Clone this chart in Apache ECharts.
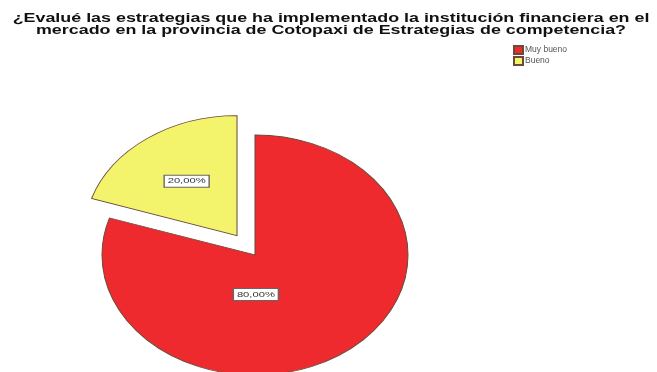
<!DOCTYPE html>
<html>
<head>
<meta charset="utf-8">
<script src="https://cdn.jsdelivr.net/npm/echarts@6/dist/echarts.min.js"></script>
<style>
  html, body { margin: 0; padding: 0; background: #fff; }
  #chart { width: 657px; height: 372px; }
</style>
</head>
<body>
<div id="chart"></div>
<script>
// Category names and their percentages
const categories = ['Muy bueno', 'Bueno'];
const values = [80, 20];

// Chart title (two lines)
const titleLines = [
  '¿Evalué las estrategias que ha implementado la institución financiera en el',
  'mercado en la provincia de Cotopaxi de Estrategias de competencia?'
];

// Slice colours
const colors = ['#EE2A2E', '#F4F36C'];

// Pie geometry (drawn as an ellipse: circle of radius R stretched by SX)
const CX = 255, CY = 255, R = 120, SX = 1.275;
const explodeDist = [0, 24];
// label placement per slice: [fraction of radius, screen angle in degrees or null for mid-angle]
const labelPlace = [[0.33, 89], [0.56, null]];
// horizontal stretch used for the wide lettering
const TEXT_SX = 1.4;

const total = values.reduce((a, b) => a + b, 0);

function sliceAngles(i) {
  let before = 0;
  for (let k = 0; k < i; k++) before += values[k];
  const start = -Math.PI / 2 + 2 * Math.PI * before / total;
  const end = start + 2 * Math.PI * values[i] / total;
  return [start, end];
}

function fmt(v) {
  return (v / total * 100).toFixed(2).replace('.', ',') + '%';
}

function renderSlice(params, api) {
  const i = params.seriesIndex;
  const [a0, a1] = sliceAngles(i);
  const mid = (a0 + a1) / 2;
  const ox = Math.cos(mid) * explodeDist[i] * SX;
  const oy = Math.sin(mid) * explodeDist[i];
  const px = CX + ox, py = CY + oy;
  const lp = labelPlace[i];
  const la = lp[1] == null ? mid : lp[1] * Math.PI / 180;
  const lx = px + Math.cos(la) * R * lp[0] * SX;
  const ly = py + Math.sin(la) * R * lp[0];
  return {
    type: 'group',
    children: [
      {
        type: 'sector',
        x: px, y: py, scaleX: SX, scaleY: 1,
        shape: { cx: 0, cy: 0, r0: 0, r: R, startAngle: a0, endAngle: a1, clockwise: true },
        style: { fill: colors[i], stroke: '#6a4a3a', lineWidth: 0.8, strokeNoScale: true }
      },
      {
        type: 'text',
        x: lx, y: ly,
        scaleX: TEXT_SX,
        z2: 10,
        style: {
          text: fmt(values[i]),
          fontFamily: 'Liberation Sans, Arial, sans-serif',
          fontSize: 8,
          fill: '#333',
          backgroundColor: '#fff',
          borderColor: '#666',
          borderWidth: 1,
          padding: [2, 2, 1, 2],
          align: 'center',
          verticalAlign: 'middle'
        }
      }
    ]
  };
}

const chart = echarts.init(document.getElementById('chart'), null, { renderer: 'canvas' });

chart.setOption({
  backgroundColor: '#fff',
  animation: false,
  graphic: [{
    type: 'text',
    x: 331,
    y: 12,
    scaleX: 1.43,
    style: {
      text: titleLines.join('\n'),
      fontFamily: 'Liberation Sans, Arial, sans-serif',
      fontWeight: 'bold',
      fontSize: 12.5,
      lineHeight: 12.5,
      fill: '#111',
      align: 'center',
      verticalAlign: 'top'
    }
  }],
  legend: {
    orient: 'vertical',
    left: 513,
    top: 45,
    padding: 0,
    icon: 'rect',
    itemWidth: 9,
    itemHeight: 8,
    itemGap: 1,
    selectedMode: false,
    textStyle: { fontSize: 8.5, color: '#555', padding: [0, 0, 0, -3] },
    data: categories
  },
  series: categories.map((name, i) => ({
    type: 'custom',
    name: name,
    coordinateSystem: 'none',
    itemStyle: { color: colors[i], borderColor: '#6a4a3a', borderWidth: 1 },
    renderItem: renderSlice,
    data: [values[i]]
  }))
});
</script>
</body>
</html>
